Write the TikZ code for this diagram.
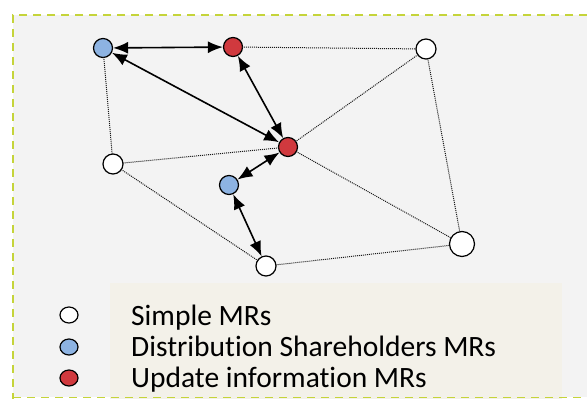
\documentclass[tikz,border=0pt]{standalone}
\usepackage{fontspec}
\setmainfont{Carlito}[Ligatures=NoCommon]
\usetikzlibrary{arrows.meta,shapes.geometric}
\definecolor{bgray}{HTML}{F3F3F3}
\definecolor{legbg}{HTML}{F3F1E9}
\definecolor{bordergreen}{HTML}{C5D43A}
\definecolor{mrblue}{HTML}{8DB3E2}
\definecolor{mrred}{HTML}{D0393E}
\tikzset{
  mr/.style={circle, draw=black, line width=1.2pt, minimum size=19pt, inner sep=0pt},
  simplemr/.style={mr, fill=white, minimum size=20pt},
  bigmr/.style={mr, fill=white, minimum size=25pt},
  bluemr/.style={mr, fill=mrblue},
  redmr/.style={mr, fill=mrred},
  legmark/.style={ellipse, draw=black, line width=1.2pt, minimum width=18pt, minimum height=16pt, inner sep=0pt},
  link/.style={draw=black!90, line width=1pt, densely dotted, shorten <=-1pt, shorten >=-1pt},
  flow/.style={draw=black, line width=1.6pt, {Latex[length=15pt,width=12pt]}-{Latex[length=15pt,width=12pt]}},
  legtext/.style={anchor=base west, inner sep=0pt, font=\fontsize{29.5}{32}\selectfont, text=black}
}
\begin{document}
\begin{tikzpicture}[x=1pt, y=-1pt]
\useasboundingbox (0,0) rectangle (587,399);
\fill[white] (0,0) rectangle (587,399);
\fill[bgray] (13,15) rectangle (587,397);
\fill[legbg] (110,283) rectangle (562,399);
\draw[bordergreen, line width=1.6pt, dash pattern=on 8pt off 6pt] (587,15) -- (13,15) -- (13,399);
\draw[bordergreen, line width=1.6pt, dash pattern=on 8pt off 6pt] (13,397.5) -- (587,397.5);

% nodes
\node[bluemr]   (b1) at (103,48) {};
\node[redmr]    (r1) at (233,47) {};
\node[simplemr] (w1) at (426,49) {};
\node[redmr]    (rc) at (288,147) {};
\node[simplemr] (wl) at (113,164) {};
\node[bluemr]   (b2) at (229,185) {};
\node[simplemr] (wb) at (266,266) {};
\node[bigmr]    (wg) at (462,244) {};

% dotted links
\draw[link] (r1) -- (w1);
\draw[link] (w1) -- (rc);
\draw[link] (w1) -- (wg);
\draw[link] (b1) -- (wl);
\draw[link] (wl) -- (rc);
\draw[link] (wl) -- (wb);
\draw[link] (wb) -- (wg);
\draw[link] (rc) -- (wg);

% bidirectional flows
\draw[flow] (b1) -- (r1);
\draw[flow] (r1) -- (rc);
\draw[flow] (rc) -- (b1);
\draw[flow] (rc) -- (b2);
\draw[flow] (b2) -- (wb);

% legend
\node[legmark, fill=white]  (lw) at (69,315) {};
\node[legmark, fill=mrblue] (lb) at (69,347) {};
\node[legmark, fill=mrred]  (lr) at (69,378) {};
\node[legtext] (tw) at (131,325) {Simple MRs};
\node[legtext] (tb) at (131,356) {Distribution Shareholders MRs};
\node[legtext] (tr) at (131,387) {Update information MRs};
\end{tikzpicture}
\end{document}
